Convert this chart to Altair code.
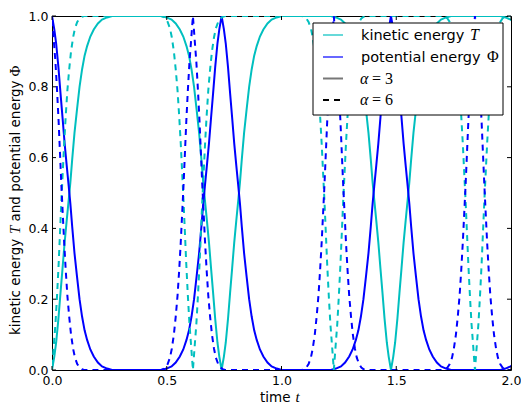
import altair as alt
import pandas as pd

# Plot area size in pixels
W, H = 459, 354

# Axis tick positions
t_ticks = [0.0, 0.5, 1.0, 1.5, 2.0]
e_ticks = [0.0, 0.2, 0.4, 0.6, 0.8, 1.0]

# alpha = 3: times of the potential-energy maxima, and the energies
# at a given time offset from each maximum
peaks_a3 = [0.0, 0.739, 1.477, 2.216]
offset_a3 = [0.0, 0.010, 0.018, 0.028, 0.037, 0.046, 0.055, 0.064, 0.073, 0.080,
             0.088, 0.098, 0.109, 0.120, 0.131, 0.142, 0.153, 0.167, 0.182, 0.200,
             0.218, 0.240, 0.262]
pot_a3 = [1.000, 0.962, 0.923, 0.855, 0.782, 0.712, 0.640, 0.578, 0.518, 0.470,
          0.405, 0.330, 0.264, 0.200, 0.151, 0.112, 0.085, 0.058, 0.038, 0.021,
          0.010, 0.004, 0.000]
kin_a3 = [0.000, 0.038, 0.077, 0.145, 0.218, 0.288, 0.360, 0.422, 0.482, 0.530,
          0.595, 0.670, 0.736, 0.800, 0.849, 0.888, 0.915, 0.942, 0.962, 0.979,
          0.990, 0.996, 1.000]

# alpha = 6
peaks_a6 = [0.0, 0.614, 1.228, 1.843, 2.457]
offset_a6 = [0.0, 0.008, 0.015, 0.022, 0.029, 0.035, 0.041, 0.047, 0.053, 0.060,
             0.067, 0.075, 0.083, 0.092, 0.100, 0.110, 0.120, 0.130, 0.140]
pot_a6 = [1.00, 0.93, 0.87, 0.79, 0.70, 0.61, 0.52, 0.44, 0.36, 0.28,
          0.21, 0.15, 0.10, 0.06, 0.035, 0.017, 0.007, 0.002, 0.0]
kin_a6 = [0.00, 0.07, 0.13, 0.21, 0.30, 0.39, 0.48, 0.56, 0.64, 0.72,
          0.79, 0.85, 0.90, 0.94, 0.965, 0.983, 0.993, 0.998, 1.0]

CYAN = "#00bfbf"
BLUE = "#0000ff"
SANS = "DejaVu Sans"
SERIF = "Liberation Serif"


def series(peaks, offsets, pot, kin):
    rows = []
    for p in peaks:
        for d, ph, k in zip(offsets, pot, kin):
            for s in ((1,) if d == 0 else (-1, 1)):
                rows.append((round(p + s * d, 4), ph, k))
    rows.sort()
    return pd.DataFrame(rows, columns=["t", "potential", "kinetic"])


df3 = series(peaks_a3, offset_a3, pot_a3, kin_a3)
df6 = series(peaks_a6, offset_a6, pot_a6, kin_a6)

x_scale = alt.Scale(domain=[0, 2], nice=False, zero=False)
y_scale = alt.Scale(domain=[0, 1], nice=False, zero=False)
x_axis = alt.Axis(values=t_ticks, format=".1f", title="", labelFlush=False)
y_axis = alt.Axis(values=e_ticks, format=".1f", title="", labelFlush=False)


def X(field):
    return alt.X(f"{field}:Q", scale=x_scale, axis=x_axis)


def Y(field):
    return alt.Y(f"{field}:Q", scale=y_scale, axis=y_axis)


def curve(df, field, color, dashed):
    mark = dict(color=color, strokeWidth=2, clip=True)
    if dashed:
        mark["strokeDash"] = [6, 5]
    return alt.Chart(df).mark_line(**mark).encode(x=X("t"), y=Y(field), order="t:Q")


lines = [
    curve(df3, "kinetic", CYAN, False),
    curve(df3, "potential", BLUE, False),
    curve(df6, "kinetic", CYAN, True),
    curve(df6, "potential", BLUE, True),
]

# Inward tick marks on all four sides of the frame
xt = pd.DataFrame({"t": t_ticks})
yt = pd.DataFrame({"kinetic": e_ticks})
TL = 4
ticks = [
    alt.Chart(xt).mark_rule(color="black", strokeWidth=1).encode(
        x=X("t"), y=alt.value(H), y2=alt.value(H - TL)),
    alt.Chart(xt).mark_rule(color="black", strokeWidth=1).encode(
        x=X("t"), y=alt.value(0), y2=alt.value(TL)),
    alt.Chart(yt).mark_rule(color="black", strokeWidth=1).encode(
        y=Y("kinetic"), x=alt.value(0), x2=alt.value(TL)),
    alt.Chart(yt).mark_rule(color="black", strokeWidth=1).encode(
        y=Y("kinetic"), x=alt.value(W), x2=alt.value(W - TL)),
]

one = pd.DataFrame({"k": [0]})


def txt(s, x, y, font=SANS, size=13.0, style="normal", angle=0):
    props = dict(text=s, font=font, fontSize=size, fontStyle=style, align="left",
                 baseline="alphabetic", color="black")
    if angle:
        props["angle"] = angle
    return alt.Chart(one).mark_text(**props).encode(x=alt.value(x), y=alt.value(y))


def sample(y, color, width, dashed=False):
    props = dict(color=color, strokeWidth=width)
    if dashed:
        props["strokeDash"] = [6, 5]
    return alt.Chart(one).mark_rule(**props).encode(
        x=alt.value(271), x2=alt.value(291), y=alt.value(y))


LS = 14.5   # legend text size
MS = 16     # math glyph size
legend = [
    alt.Chart(one).mark_rect(fill="white", stroke="black", strokeWidth=1).encode(
        x=alt.value(261), x2=alt.value(451), y=alt.value(7), y2=alt.value(99)),
    sample(19, CYAN, 1.2),
    sample(41, BLUE, 1.2),
    sample(62.5, "#777777", 2),
    sample(84, "black", 2, dashed=True),
    txt("kinetic energy", 309, 24, size=LS),
    txt("T", 418, 24, font=SERIF, size=MS, style="italic"),
    txt("potential energy", 309, 46, size=LS),
    txt("Φ", 435, 46, font=SERIF, size=MS),
    txt("α", 308, 67.5, font=SERIF, size=MS, style="italic"),
    txt("= 3", 320, 67.5, font=SERIF, size=MS),
    txt("α", 308, 89, font=SERIF, size=MS, style="italic"),
    txt("= 6", 320, 89, font=SERIF, size=MS),
]

# Axis titles with math-style symbols
TS = 13.5
titles = [
    txt("time", 208, 386, size=TS),
    txt("t", 243.5, 386, font=SERIF, size=15, style="italic"),
    txt("kinetic energy", -32, 319, size=TS, angle=270),
    txt("T", -32, 218, font=SERIF, size=15, style="italic", angle=270),
    txt("and potential energy", -32, 205.5, size=TS, angle=270),
    txt("Φ", -32, 60.5, font=SERIF, size=15, angle=270),
]

chart = alt.layer(*lines, *ticks, *legend, *titles).properties(
    width=W, height=H,
    autosize=alt.AutoSizeParams(type="none"),
    padding={"left": 52, "top": 16, "right": 10, "bottom": 39},
).configure_view(
    stroke="black", strokeWidth=1,
).configure_axis(
    grid=False, ticks=False, domain=False,
    labelFont=SANS, labelFontSize=12.5, labelColor="black", labelPadding=4,
)

chart.save("out.html", embed_options={"renderer": "svg", "actions": False})
